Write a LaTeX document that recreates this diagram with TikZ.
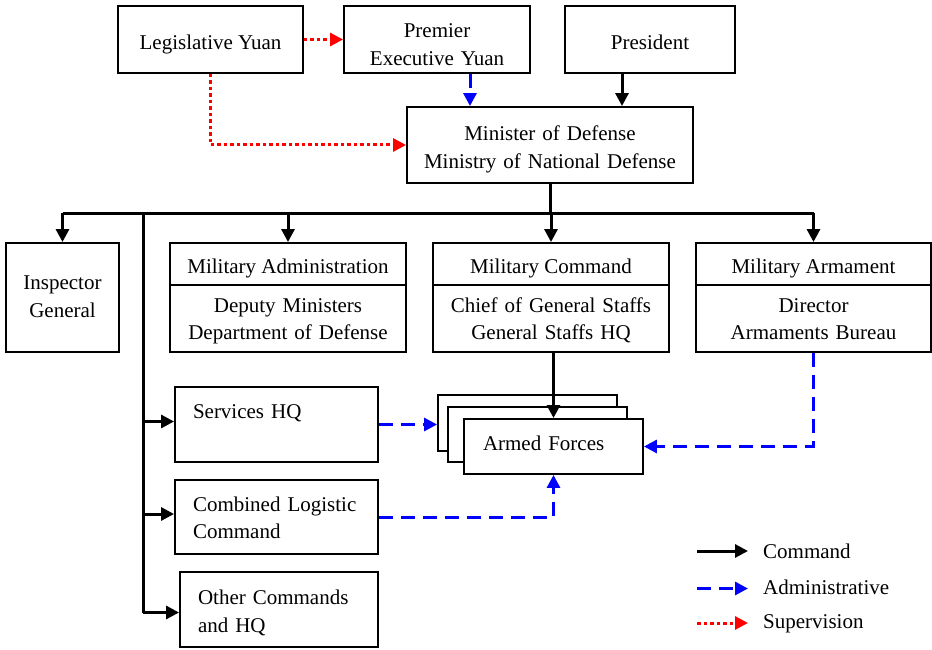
\documentclass[tikz,border=0pt]{standalone}
\usepackage{fontspec}
\setmainfont{Liberation Serif}
\usetikzlibrary{arrows.meta}
\begin{document}
\begin{tikzpicture}[x=1pt,y=-1pt,
 tb/.style 2 args={text height=#1, text depth=#2},
 box/.style={draw, line width=1.9pt, fill=white, inner sep=0pt, align=center, font=\fontsize{21}{28}\selectfont},
 mbox/.style={box, text width=#1},
 bs/.style={font=\fontsize{21}{#1}\selectfont},
 lbox/.style={box, align=left, inner xsep=18pt},
 cmd/.style={line width=3pt, -{Triangle[length=13pt,width=13pt]}},
 adm/.style={blue, line width=3pt, dash pattern=on 14pt off 8pt, -{Triangle[length=13pt,width=13pt]}},
 sup/.style={red, line width=3pt, dash pattern=on 3.5pt off 3pt, -{Triangle[length=13pt,width=13pt]}},
 lgd/.style={anchor=base west, inner sep=0pt, font=\fontsize{21}{28}\selectfont},
]
\useasboundingbox (0,0) rectangle (932,650);
% top row
\node[box, tb={20pt}{0.4pt}, minimum width=185pt, minimum height=67pt] (ly) at (210.5,39.5) {Legislative Yuan};
\node[mbox=186pt, tb={20pt}{24.4pt}, minimum width=186pt, minimum height=67pt] (pr) at (437,39.5) {Premier\\Executive Yuan};
\node[box, tb={22pt}{1pt}, minimum width=170pt, minimum height=67pt] (pres) at (650,39.5) {President};
\node[mbox=286pt, tb={20pt}{28pt}, minimum width=286pt, minimum height=76pt] (mod) at (550,145) {Minister of Defense\\Ministry of National Defense};
% second row
\node[mbox=113pt, tb={20pt}{36.6pt}, minimum width=113pt, minimum height=109pt] (ig) at (62.5,297.5) {Inspector\\General};
\node[box, tb={20pt}{1.4pt}, minimum width=236pt, minimum height=42pt] (maT) at (288,264) {Military Administration};
\node[mbox=236pt, bs=26.7pt, tb={20pt}{31.6pt}, minimum width=236pt, minimum height=67pt] (maB) at (288,318.5) {Deputy Ministers\\Department of Defense};
\node[box, tb={20pt}{1.4pt}, minimum width=236pt, minimum height=42pt] (mcT) at (551,264) {Military Command};
\node[mbox=236pt, bs=26.7pt, tb={20pt}{31.6pt}, minimum width=236pt, minimum height=67pt] (mcB) at (551,318.5) {Chief of General Staffs\\General Staffs HQ};
\node[box, tb={20pt}{1.4pt}, minimum width=235pt, minimum height=42pt] (arT) at (813.5,264) {Military Armament};
\node[mbox=235pt, bs=26.7pt, tb={20pt}{31.6pt}, minimum width=235pt, minimum height=67pt] (arB) at (813.5,318.5) {Director\\Armaments Bureau};
% left column
\node[lbox, tb={20pt}{32.4pt}, text width=167pt, minimum width=203pt, minimum height=75pt] (shq) at (276.5,424.5) {Services HQ};
\node[lbox, bs=27.3pt, tb={20pt}{32pt}, text width=167pt, minimum width=203pt, minimum height=74pt] (clc) at (276.5,517) {Combined Logistic\\Command};
\node[lbox, tb={20pt}{30.4pt}, text width=162pt, minimum width=198pt, minimum height=75pt] (oth) at (279,609.5) {Other Commands\\and HQ};
% armed forces stack
\node[box, minimum width=179pt, minimum height=56pt] (af3) at (527.5,423) {};
\node[box, minimum width=179pt, minimum height=55pt] (af2) at (537.5,434.5) {};
\node[lbox, tb={20pt}{13pt}, inner xsep=19pt, text width=141pt, minimum width=179pt, minimum height=55pt] (af1) at (553.5,446.5) {Armed Forces};
% helper coordinates
\coordinate (px) at (470,0);
\coordinate (qx) at (622,0);
\coordinate (busy) at (0,213);
\coordinate (vx) at (143,0);
\coordinate (s1) at ([yshift=3pt]shq.west);
\coordinate (s2) at ([yshift=3pt]clc.west);
\coordinate (s3) at ([yshift=-3pt]oth.west);
% supervision
\draw[sup] (ly.east) -- (pr.west);
\draw[sup] (ly.south) |- (mod.west);
% administrative / command into MoD
\draw[adm] (pr.south -| px) -- (mod.north -| px);
\draw[cmd] (pres.south -| qx) -- (mod.north -| qx);
% bus
\draw[line width=3pt] (mod.south) -- (mod.south |- busy);
\draw[line width=3pt] (ig.north |- busy) -- (arT.north |- busy);
\draw[cmd] (ig.north |- busy) -- (ig.north);
\draw[cmd] (maT.north |- busy) -- (maT.north);
\draw[cmd] (mcT.north |- busy) -- (mcT.north);
\draw[cmd] (arT.north |- busy) -- (arT.north);
% left vertical
\draw[line width=3pt] (vx |- busy) -- (vx |- s3);
\draw[cmd] (vx |- s1) -- (s1);
\draw[cmd] (vx |- s2) -- (s2);
\draw[cmd] (vx |- s3) -- (s3);
% to armed forces
\draw[cmd] (mcB.south -| af1.north) -- (af1.north);
\draw[adm] (shq.east) -- (shq.east -| af3.west);
\draw[adm] (arB.south) |- (af1.east);
\draw[adm] (clc.east) -| (af1.south);
% legend
\coordinate (l1a) at (697,551); \coordinate (l1b) at (748,551);
\coordinate (l2a) at (697,588.5); \coordinate (l2b) at (748,588.5);
\coordinate (l3a) at (697,623); \coordinate (l3b) at (748,623);
\draw[cmd] (l1a) -- (l1b);
\draw[adm] (l2a) -- (l2b);
\draw[sup] (l3a) -- (l3b);
\node[lgd] (t1) at (763,558) {Command};
\node[lgd] (t2) at (763,594) {Administrative};
\node[lgd] (t3) at (763,628) {Supervision};
\end{tikzpicture}
\end{document}
